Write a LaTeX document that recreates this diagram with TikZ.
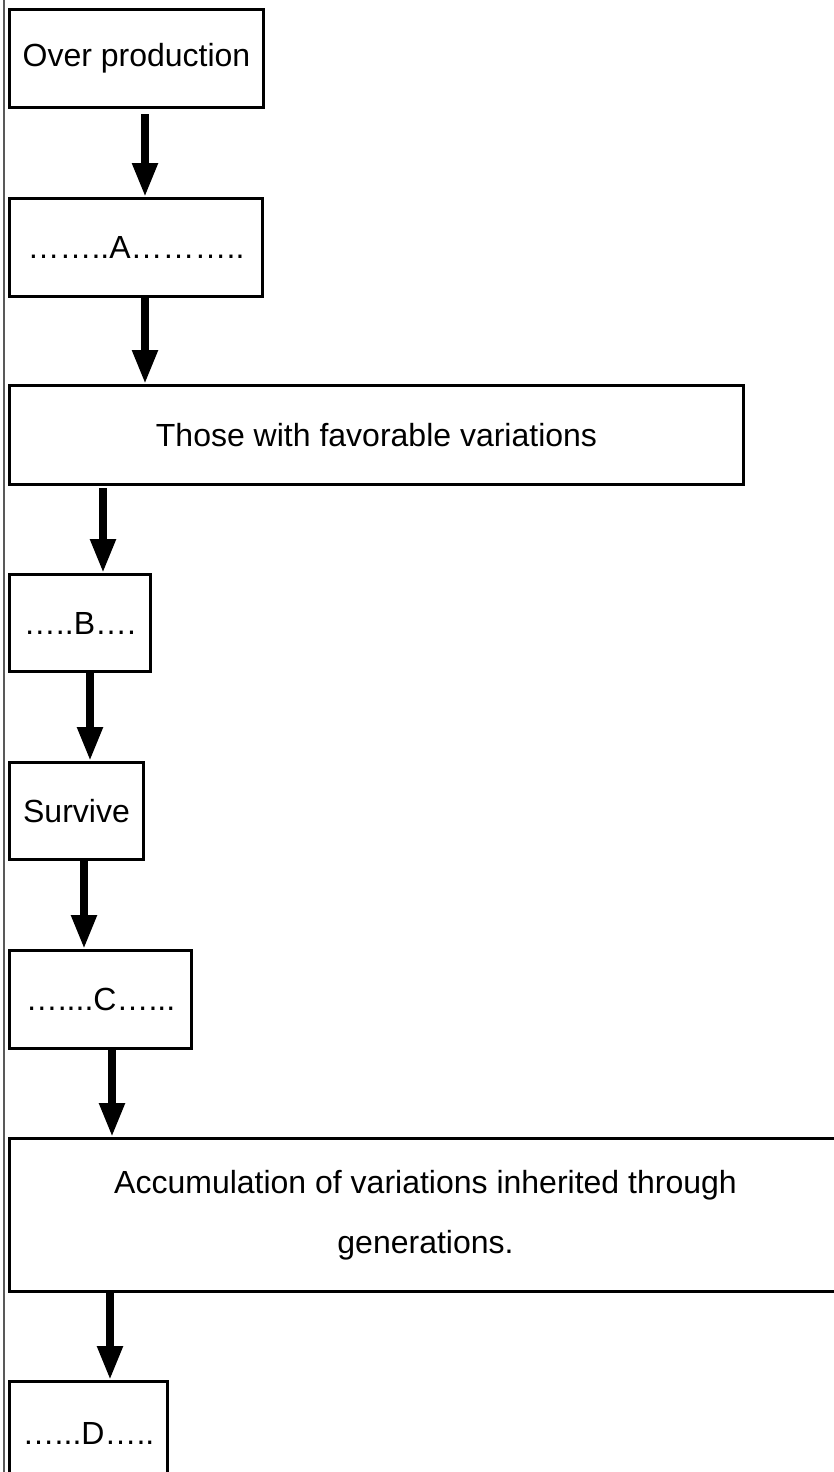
\documentclass[tikz,border=0pt]{standalone}
\usepackage{fontspec}
\setmainfont{Liberation Sans}
\usetikzlibrary{arrows.meta}

\tikzset{
		chart/.style={
			x=1pt,y=-1pt,
			every node/.style={draw,rectangle,line width=3pt,anchor=north west,
				inner sep=0pt,align=center,font=\fontsize{32}{60}\selectfont}
		},
		flow/.style={line width=8pt,-{Triangle[width=24pt,length=34pt]}},
		edgeline/.style={line width=1.5pt,draw=black!65}
	}

\begin{document}
\begin{tikzpicture}[chart]
				\useasboundingbox (0,0) rectangle (833,1472);
				\draw[edgeline] (4,0) -- (4,1472);

				\node (overprod) [minimum width=254pt,minimum height=98pt] at (8,8) {Over production};
				\node (stageA) [minimum width=253pt,minimum height=98pt] at (8,197) {……..A………..};
				\node (favor) [minimum width=734pt,minimum height=99pt] at (8,384) {Those with favorable variations};
				\node (stageB) [minimum width=141pt,minimum height=97pt] at (8,573) {…..B….};
				\node (survive) [minimum width=134pt,minimum height=97pt] at (8,761) {Survive};
				\node (stageC) [minimum width=182pt,minimum height=98pt] at (8,949) {…....C…...};
				\node (accum) [minimum width=832pt,minimum height=153pt] at (8,1137)
					{Accumulation of variations inherited through\\generations.};
				\node (stageD) [minimum width=158pt,minimum height=104pt] at (8,1380) {…...D…..};

				\draw[flow,shorten <=5pt] ([xshift=137pt]overprod.south west) -- ([xshift=137pt]stageA.north west);
				\draw[flow] ([xshift=137pt]stageA.south west) -- ([xshift=137pt]favor.north west);
				\draw[flow,shorten <=2pt] ([xshift=95pt]favor.south west) -- ([xshift=95pt]stageB.north west);
				\draw[flow,shorten <=-3pt] ([xshift=82pt]stageB.south west) -- ([xshift=82pt]survive.north west);
				\draw[flow] ([xshift=76pt]survive.south west) -- ([xshift=76pt]stageC.north west);
				\draw[flow] ([xshift=104pt]stageC.south west) -- ([xshift=104pt]accum.north west);
				\draw[flow] ([xshift=102pt]accum.south west) -- ([xshift=102pt]stageD.north west);
			\end{tikzpicture}
\end{document}
